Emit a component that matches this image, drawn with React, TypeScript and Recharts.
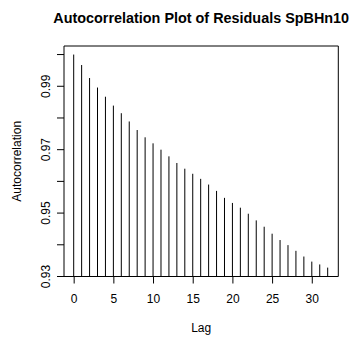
import React from "react";
import { ComposedChart, Bar, XAxis, YAxis, ReferenceArea, Label } from "recharts";

const lags = [0,1,2,3,4,5,6,7,8,9,10,11,12,13,14,15,16,17,18,19,20,21,22,23,24,25,26,27,28,29,30,31,32];
const acfValues = [
  1.0, 0.9967, 0.9926, 0.9896, 0.9867, 0.9839, 0.9815, 0.9789, 0.9762, 0.9739,
  0.972, 0.97, 0.9679, 0.9658, 0.964, 0.9624, 0.9608, 0.959, 0.957, 0.9548,
  0.9532, 0.9517, 0.9498, 0.9477, 0.9457, 0.9435, 0.9415, 0.9399, 0.9381, 0.9363,
  0.9347, 0.9338, 0.9328,
];
const xTicks = [0, 5, 10, 15, 20, 25, 30];
const yTicks = [0.93, 0.94, 0.95, 0.96, 0.97, 0.98, 0.99, 1.0];
const yLabeled = ["0.93", "0.95", "0.97", "0.99"];

const data = lags.map((lag, i) => ({ lag, acf: acfValues[i] }));

const FONT = "'Liberation Sans', Arial, Helvetica, sans-serif";
const X_DOMAIN: [number, number] = [-1.28, 33.28];
const Y_DOMAIN: [number, number] = [0.93, 1.0027];

const LineShape = (props: any) => {
  const { x, y, width, height } = props;
  const cx = x + width / 2;
  return <line x1={cx} x2={cx} y1={y} y2={y + height} stroke="#000" strokeWidth={1} />;
};

const YTick = (props: any) => {
  const { x, y, payload } = props;
  const s = payload.value.toFixed(2);
  if (!yLabeled.includes(s)) return null;
  return (
    <text
      x={x}
      y={y}
      transform={`rotate(-90, ${x}, ${y})`}
      textAnchor="middle"
      fontSize={12}
      fontFamily={FONT}
      fill="#000"
    >
      {s}
    </text>
  );
};

export default function App() {
  return (
    <div style={{ position: "absolute", left: 0, top: 0, width: 353, height: 338, background: "#fff" }}>
      <ComposedChart
        width={353}
        height={338}
        data={data}
        margin={{ top: 46, right: 14.7, bottom: 0, left: 0 }}
      >
        <text
          x={201.2}
          y={23}
          textAnchor="middle"
          fontSize={14.4}
          fontWeight="bold"
          fontFamily={FONT}
          fill="#000"
        >
          Autocorrelation Plot of Residuals SpBHn10
        </text>
        <XAxis
          dataKey="lag"
          type="number"
          domain={X_DOMAIN}
          ticks={xTicks}
          allowDataOverflow
          height={61.5}
          axisLine={false}
          tickLine={{ stroke: "#000" }}
          tickSize={7}
          tickMargin={11}
          tick={{ fontSize: 12, fontFamily: FONT, fill: "#000" }}
          interval={0}
        >
          <Label
            value="Lag"
            position="insideBottom"
            offset={6}
            style={{ fontSize: 12, fontFamily: FONT, fill: "#000" }}
          />
        </XAxis>
        <YAxis
          type="number"
          domain={Y_DOMAIN}
          ticks={yTicks}
          allowDataOverflow
          width={64}
          axisLine={false}
          tickLine={{ stroke: "#000" }}
          tickSize={7}
          tickMargin={7}
          tick={<YTick />}
          interval={0}
        >
          <Label
            content={() => (
              <text
                x={21}
                y={161.3}
                transform="rotate(-90, 21, 161.3)"
                textAnchor="middle"
                fontSize={12}
                fontFamily={FONT}
                fill="#000"
              >
                Autocorrelation
              </text>
            )}
          />
        </YAxis>
        <Bar dataKey="acf" barSize={1} shape={<LineShape />} isAnimationActive={false} />
        <ReferenceArea
          x1={X_DOMAIN[0]}
          x2={X_DOMAIN[1]}
          y1={Y_DOMAIN[0]}
          y2={Y_DOMAIN[1]}
          fill="none"
          stroke="#000"
          strokeWidth={1}
          ifOverflow="visible"
        />
      </ComposedChart>
    </div>
  );
}
